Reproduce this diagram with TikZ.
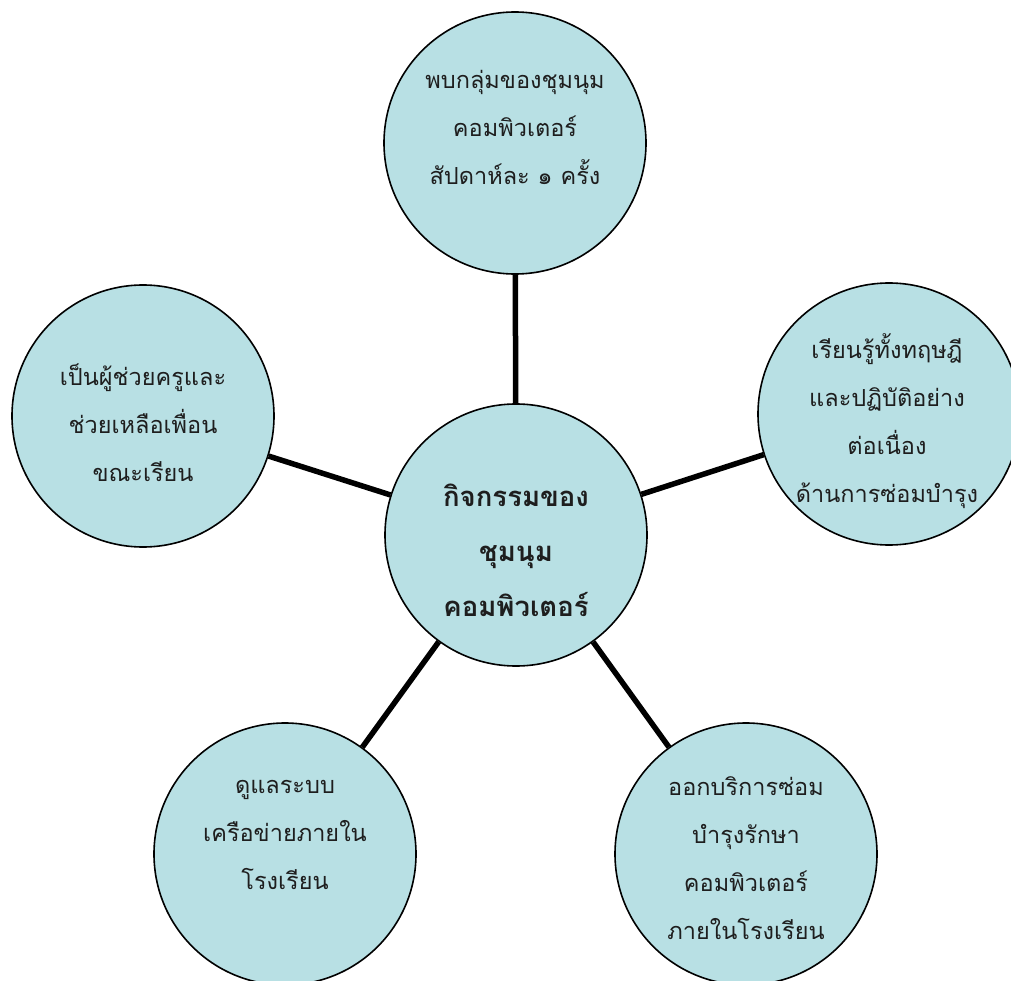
\documentclass[tikz,border=0pt]{standalone}
\usepackage{fontspec}
\newfontfamily\thaifont[Script=Thai]{Loma}
\usetikzlibrary{positioning}
\definecolor{bubblefill}{RGB}{184,224,228}
\definecolor{inktext}{RGB}{30,30,30}
\tikzset{
    bubble/.style={circle, draw=black, line width=1.6pt, fill=bubblefill,
        minimum size=262pt, inner sep=0pt},
    spoke/.style={draw=black, line width=5.5pt},
    bubbletext/.style={align=center, text=inktext,
        font=\thaifont\fontsize{23.5}{48}\selectfont},
    hubtext/.style={align=center, text=inktext,
        font=\thaifont\bfseries\fontsize{27.5}{55}\selectfont}
}
\begin{document}
\begin{tikzpicture}[x=1pt,y=-1pt]
	\useasboundingbox (0,0) rectangle (1011,981);
	\clip (0,0) rectangle (1011,981);
	\node[bubble] (hub) at (516,535) {};
	\node[bubble] (top) at (515,143) {};
	\node[bubble] (right) at (889,414) {};
	\node[bubble] (left) at (143,416) {};
	\node[bubble] (botleft) at (285,854) {};
	\node[bubble] (botright) at (746,854) {};
	\draw[spoke] (hub) -- (top);
	\draw[spoke] (hub) -- (right);
	\draw[spoke] (hub) -- (left);
	\draw[spoke] (hub) -- (botleft);
	\draw[spoke] (hub) -- (botright);
	% texts
	\node[hubtext] (hubtxt) at (516,550) {กิจกรรมของ\\ชุมนุม\\คอมพิวเตอร์};
	\node[bubbletext] (toptxt) at (515,127) {พบกลุ่มของชุมนุม\\คอมพิวเตอร์\\สัปดาห์ละ ๑ ครั้ง};
	\node[bubbletext] (righttxt) at (887,421) {เรียนรู้ทั้งทฤษฎี\\และปฏิบัติอย่าง\\ต่อเนื่อง\\ด้านการซ่อมบำรุง};
	\node[bubbletext] (lefttxt) at (143,423) {เป็นผู้ช่วยครูและ\\ช่วยเหลือเพื่อน\\ขณะเรียน};
	\node[bubbletext] (botlefttxt) at (285,835) {ดูแลระบบ\\เครือข่ายภายใน\\โรงเรียน};
	\node[bubbletext] (botrighttxt) at (746,858) {ออกบริการซ่อม\\บำรุงรักษา\\คอมพิวเตอร์\\ภายในโรงเรียน};
\end{tikzpicture}
\end{document}
